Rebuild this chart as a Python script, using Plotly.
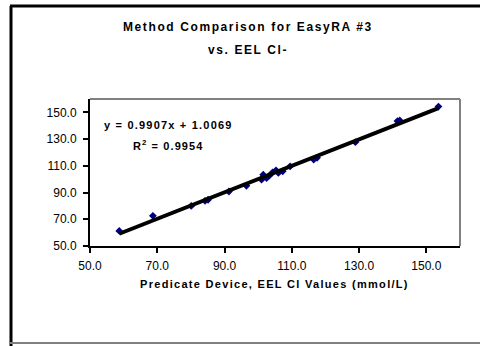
import plotly.graph_objects as go

# Data
x_vals = [58.7, 68.7, 80.1, 84.2, 85.1, 91.3, 96.5, 101.0, 101.5, 102.5, 103.3,
          104.3, 105.3, 106.0, 107.3, 109.5, 116.5, 117.5, 128.9, 141.4, 142.1, 153.6]
y_vals = [61.3, 72.6, 80.0, 83.8, 84.6, 90.8, 95.1, 99.6, 103.4, 100.9, 102.6,
          105.1, 106.6, 104.7, 105.9, 109.6, 114.7, 116.0, 127.7, 143.5, 144.0, 154.3]
slope = 0.9907
intercept = 1.0069
r2 = 0.9954
tick_vals = [50, 70, 90, 110, 130, 150]
tick_text = ["50.0", "70.0", "90.0", "110.0", "130.0", "150.0"]

W, H = 480, 346
L, R, T, B = 90, 20, 99, 100
pw, ph = W - L - R, H - T - B

def px(x):
    return (x - L) / pw

def py(y):
    return (H - B - y) / ph

FONT = "Liberation Sans, Arial, sans-serif"

def spaced(text, spacing):
    return f"<span style='letter-spacing:{spacing}px;font-weight:bold'>{text}</span>"

fig = go.Figure()
fig.add_trace(go.Scatter(x=x_vals, y=y_vals, mode="markers",
                         marker=dict(symbol="diamond", size=6, color="#000080"),
                         showlegend=False, hoverinfo="skip"))
tx = [min(x_vals), max(x_vals)]
ty = [slope * v + intercept for v in tx]
fig.add_trace(go.Scatter(x=tx, y=ty, mode="lines",
                         line=dict(color="black", width=4),
                         showlegend=False, hoverinfo="skip"))

axis_common = dict(showgrid=False, zeroline=False, showline=True, linecolor="black",
                   linewidth=2, ticks="outside", ticklen=5, tickwidth=2, tickcolor="black",
                   tickvals=tick_vals, ticktext=tick_text,
                   tickfont=dict(family=FONT, size=12, color="black"))
fig.update_xaxes(range=[50, 160], ticklabelstandoff=3, **axis_common)
fig.update_yaxes(range=[50, 160], ticklabelstandoff=4, **axis_common)

shapes = [
    # plot area top/right gray border
    dict(type="line", xref="paper", yref="paper", x0=0, y0=1, x1=1, y1=1,
         line=dict(color="#808080", width=2)),
    dict(type="line", xref="paper", yref="paper", x0=1, y0=0, x1=1, y1=1,
         line=dict(color="#808080", width=2)),
    # outer chart frame
    dict(type="line", xref="paper", yref="paper", x0=px(11), y0=py(6), x1=px(11), y1=py(346),
         line=dict(color="black", width=3)),
    dict(type="line", xref="paper", yref="paper", x0=px(10), y0=py(6), x1=px(480), y1=py(6),
         line=dict(color="black", width=3)),
    dict(type="line", xref="paper", yref="paper", x0=px(10), y0=py(343), x1=px(480), y1=py(343),
         line=dict(color="#808080", width=2)),
]

def ann(text, x, y, size=11):
    return dict(text=text, x=px(x), y=py(y), xref="paper", yref="paper", showarrow=False,
                xanchor="center", yanchor="middle",
                font=dict(family=FONT, size=size, color="black"))

annotations = [
    ann(spaced("Method Comparison for EasyRA #3", 1.6), 248, 27, 12),
    ann(spaced("vs. EEL Cl-", 1.6), 248, 50, 12),
    ann(spaced(f"y = {slope:.4f}x + {intercept:.4f}", 1.2), 168.5, 125),
    ann(spaced(f"R<sup>2</sup> = {r2:.4f}", 1.1), 168.5, 145),
    ann(spaced("Predicate Device, EEL Cl Values (mmol/L)", 1.3), 274, 284),
]

fig.update_layout(width=W, height=H, margin=dict(l=L, r=R, t=T, b=B),
                  paper_bgcolor="white", plot_bgcolor="white",
                  shapes=shapes, annotations=annotations)

fig.write_html("out.html")
